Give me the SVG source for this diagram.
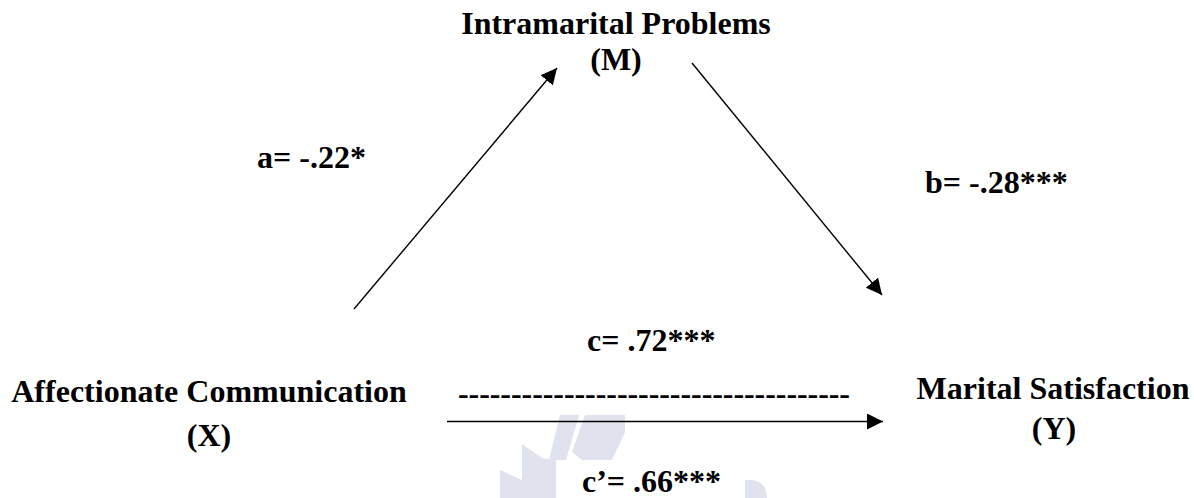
<svg xmlns="http://www.w3.org/2000/svg" width="1194" height="498" viewBox="0 0 1194 498">
<style>
text{font-family:"Liberation Serif","DejaVu Serif",serif;font-weight:bold;font-size:32px;fill:#000}
.t{text-anchor:middle}
.c{stroke:#000;stroke-width:1.4;fill:none}
.wm{fill:#e0e2ee}
</style>
<defs>
<marker id="ah" markerUnits="userSpaceOnUse" markerWidth="18" markerHeight="16" refX="16" refY="8" orient="auto">
<path d="M0,0 L16,8 L0,16 Z" fill="#000"/>
</marker>
</defs>
<rect width="1194" height="498" fill="#fff"/>
<g id="watermark">
<polygon class="wm" points="560,415 579,415 566,460 549,460"/>
<polygon class="wm" points="585,415 625,415 625,432 612,460 582,460 572,452"/>
<polygon class="wm" points="522,444 542,458 556,460 556,498 522,498"/>
<polygon class="wm" points="500,470 522,480 522,498 500,498"/>
<path class="wm" d="M745,480 L752,480 Q767,482 767,498 L745,498 Z"/>
</g>
<g id="connectors">
<line class="c" x1="354" y1="309" x2="557" y2="68" marker-end="url(#ah)"/>
<line class="c" x1="692" y1="63" x2="882" y2="295" marker-end="url(#ah)"/>
<line class="c" x1="447" y1="421.5" x2="883" y2="421.5" marker-end="url(#ah)"/>
</g>
<g id="node-m">
<text class="t" x="616" y="34">Intramarital Problems</text>
<text class="t" x="616" y="70">(M)</text>
</g>
<g id="node-x">
<text class="t" x="209" y="402">Affectionate Communication</text>
<text class="t" x="209" y="446">(X)</text>
</g>
<g id="node-y">
<text class="t" x="1053" y="399">Marital Satisfaction</text>
<text class="t" x="1054" y="439">(Y)</text>
</g>
<g id="labels">
<text x="257" y="168">a= -.22*</text>
<text x="925" y="193">b= -.28***</text>
<text x="587" y="351">c= .72***</text>
<text x="458" y="404" textLength="392" lengthAdjust="spacing">-------------------------------------</text>
<text x="582" y="492">c’= .66***</text>
</g>
</svg>
